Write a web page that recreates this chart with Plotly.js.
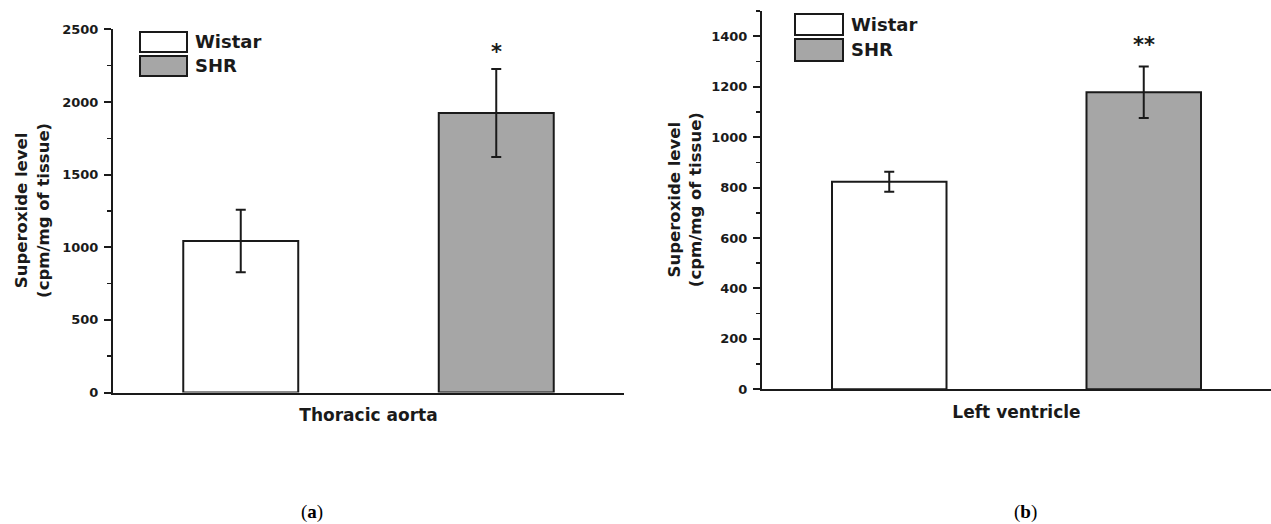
<!DOCTYPE html>
<html>
<head>
<meta charset="utf-8">
<script src="https://cdn.plot.ly/plotly-3.0.1.min.js"></script>
<style>
  html, body { margin: 0; padding: 0; background: #ffffff; }
  #chart { width: 1271px; height: 524px; }
</style>
</head>
<body>
<div id="chart"></div>
<script>
// ---------------- data ----------------
const groups = ['Wistar', 'SHR'];
const groupPos = [1, 2];
const aortaMean = [1043, 1924];
const aortaErr = [215, 303];
const aortaSig = ['', '*'];
const lvMean = [823, 1178];
const lvErr = [40, 102];
const lvSig = ['', '**'];
const panelTitles = ['Thoracic aorta', 'Left ventricle'];
const panelLetters = ['a', 'b'];
const yTitle = 'Superoxide level<br>(cpm/mg of tissue)';
const aortaTicks = [0, 500, 1000, 1500, 2000, 2500];
const lvTicks = [0, 200, 400, 600, 800, 1000, 1200, 1400];

// ---------------- style ----------------
const W = 1271, H = 524;
const px = v => v / W;
const py = v => 1 - v / H;
const FONT = 'DejaVu Sans, Arial, sans-serif';
const INK = '#1a1a1a';
const fills = ['#ffffff', '#a6a6a6'];

function barTrace(means, errs, xa, ya) {
  return {
    type: 'bar', x: groupPos, y: means, xaxis: xa, yaxis: ya,
    width: 0.45,
    marker: { color: fills, line: { color: INK, width: 2 } },
    error_y: { type: 'data', array: errs, visible: true, color: INK, thickness: 2, width: 5 },
    showlegend: false, hoverinfo: 'y'
  };
}

const data = [
  barTrace(aortaMean, aortaErr, 'x', 'y'),
  barTrace(lvMean, lvErr, 'x2', 'y2')
];

function yAxis(domain, range, ticks, minorDtick, anchor) {
  return {
    domain: domain, range: range, anchor: anchor,
    tickmode: 'array', tickvals: ticks,
    ticks: 'outside', ticklen: 7, tickwidth: 2, tickcolor: INK,
    minor: { dtick: minorDtick, ticks: 'outside', ticklen: 4, tickwidth: 1.5, tickcolor: INK, showgrid: false },
    showline: true, linecolor: INK, linewidth: 2,
    showgrid: false, zeroline: false,
    tickfont: { family: FONT, size: 13, color: INK, weight: 'bold' },
    ticklabelstandoff: 3,
    fixedrange: true
  };
}
function xAxis(domain, title, anchor) {
  return {
    domain: domain, range: [0.5, 2.5], anchor: anchor,
    showticklabels: false, ticks: '',
    showline: true, linecolor: INK, linewidth: 2,
    showgrid: false, zeroline: false,
    title: { text: title, font: { family: FONT, size: 17, color: INK, weight: 'bold' }, standoff: 16 },
    fixedrange: true
  };
}

const layout = {
  width: W, height: H,
  margin: { l: 0, r: 0, t: 0, b: 0 },
  paper_bgcolor: '#ffffff', plot_bgcolor: 'rgba(0,0,0,0)',
  showlegend: false,
  bargap: 0,
  xaxis: xAxis([px(113), px(624)], panelTitles[0], 'y'),
  yaxis: yAxis([py(392.5), py(29.3)], [0, 2500], aortaTicks, 250, 'x'),
  xaxis2: xAxis([px(762), 1], panelTitles[1], 'y2'),
  yaxis2: yAxis([py(389.3), py(11)], [0, 1500], lvTicks, 100, 'x2'),
  shapes: [],
  annotations: []
};

// y-axis titles (two-line, rotated)
[[px(32), (py(392.5) + py(29.3)) / 2], [px(685), (py(389.3) + py(11)) / 2]].forEach(p => {
  layout.annotations.push({
    xref: 'paper', yref: 'paper', x: p[0], y: p[1],
    text: yTitle, textangle: -90, showarrow: false,
    xanchor: 'center', yanchor: 'middle',
    font: { family: FONT, size: 16.5, color: INK, weight: 'bold' }
  });
});

// significance marks above error bars
[[aortaMean, aortaErr, aortaSig, 'x', 'y', 17], [lvMean, lvErr, lvSig, 'x2', 'y2', 21]].forEach(s => {
  s[2].forEach((t, i) => {
    if (!t) return;
    layout.annotations.push({
      xref: s[3], yref: s[4], x: groupPos[i], y: s[0][i] + s[1][i],
      yshift: s[5], text: t, showarrow: false,
      xanchor: 'center', yanchor: 'middle',
      font: { family: FONT, size: 21, color: INK, weight: 'bold' }
    });
  });
});

// legends drawn as boxes + labels
const legendBoxes = [
  { x0: 140, x1: 187, rows: [[32, 52], [56, 76]], tx: 193 },
  { x0: 795, x1: 843, rows: [[14, 35], [39, 61]], tx: 849 }
];
legendBoxes.forEach(lb => {
  lb.rows.forEach((r, i) => {
    layout.shapes.push({
      type: 'rect', xref: 'paper', yref: 'paper',
      x0: px(lb.x0), x1: px(lb.x1), y0: py(r[1]), y1: py(r[0]),
      fillcolor: fills[i], line: { color: INK, width: 2 }
    });
    layout.annotations.push({
      xref: 'paper', yref: 'paper', x: px(lb.tx), y: py((r[0] + r[1]) / 2),
      text: groups[i], showarrow: false, xanchor: 'left', yanchor: 'middle',
      font: { family: FONT, size: 18, color: INK, weight: 'bold' }
    });
  });
});

// panel letters
[[312, 0], [1025, 1]].forEach(p => {
  layout.annotations.push({
    xref: 'paper', yref: 'paper', x: px(p[0]), y: py(512),
    text: '(<b>' + panelLetters[p[1]] + '</b>)', showarrow: false,
    xanchor: 'center', yanchor: 'middle',
    font: { family: 'Liberation Serif, serif', size: 19, color: '#000000' }
  });
});

Plotly.newPlot('chart', data, layout, { displayModeBar: false, staticPlot: true });
</script>
</body>
</html>
